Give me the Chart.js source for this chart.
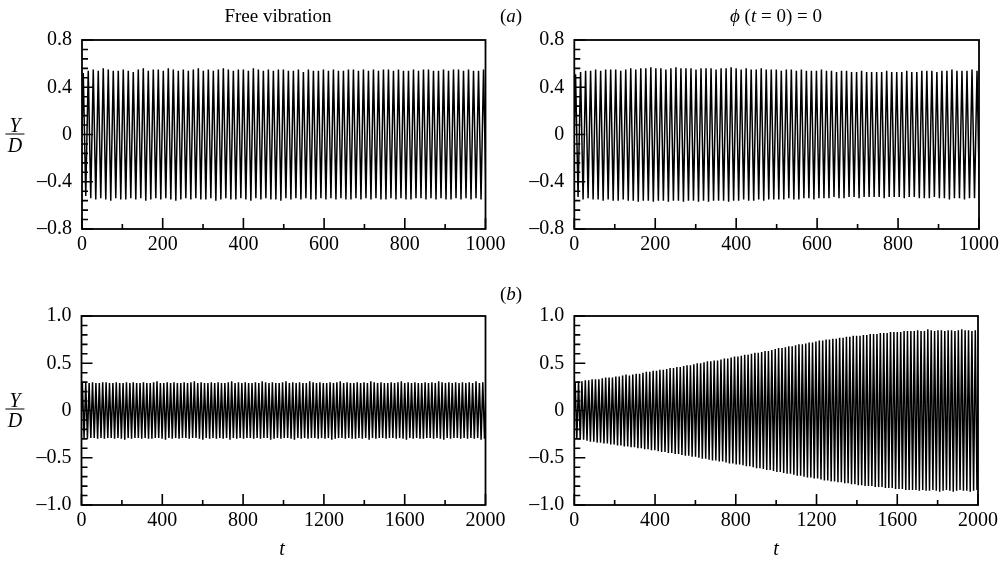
<!DOCTYPE html>
<html><head><meta charset="utf-8">
<script src="https://cdn.jsdelivr.net/npm/chart.js@4.4.1/dist/chart.umd.min.js"></script>
<style>
html,body{margin:0;padding:0;background:#fff;}
#wrap{position:relative;width:1008px;height:561px;overflow:hidden;font-family:"Liberation Serif","DejaVu Serif",serif;color:#000;background:#fff;}
canvas{position:absolute;}
.t{position:absolute;white-space:nowrap;font-size:19px;line-height:1;transform:translate(-50%,-50%);}
.frac{position:absolute;transform:translate(-50%,-50%);font-style:italic;font-size:20px;text-align:center;}
.frac .n{display:block;line-height:16px;padding:0 4px 1px;border-bottom:1.3px solid #000;}
.frac .d{display:block;line-height:18px;padding-top:1px;}
</style></head>
<body>
<div id="wrap">
<canvas id="cTL" width="525" height="256" style="left:0px;top:18px;width:525px;height:256px"></canvas>
<canvas id="cTR" width="516" height="256" style="left:492px;top:18px;width:516px;height:256px"></canvas>
<canvas id="cBL" width="525" height="256" style="left:0px;top:294px;width:525px;height:256px"></canvas>
<canvas id="cBR" width="516" height="256" style="left:492px;top:294px;width:516px;height:256px"></canvas>
<div class="t" style="left:278px;top:15px">Free vibration</div>
<div class="t" style="left:511px;top:15px">(<i>a</i>)</div>
<div class="t" style="left:776px;top:15px"><i>ϕ</i> (<i>t</i> = 0) = 0</div>
<div class="t" style="left:511px;top:293px">(<i>b</i>)</div>
<div class="frac" style="left:15px;top:135px"><span class="n">Y</span><span class="d">D</span></div>
<div class="frac" style="left:15px;top:410px"><span class="n">Y</span><span class="d">D</span></div>
<div class="t" style="left:282px;top:548px;font-style:italic;font-size:20px">t</div>
<div class="t" style="left:776px;top:548px;font-style:italic;font-size:20px">t</div>
</div>
<script>
// ---------- tick values and labels ----------
const topXTicks = [0, 200, 400, 600, 800, 1000];
const topXLabels = ['0', '200', '400', '600', '800', '1000'];
const topYTicks = [-0.8, -0.4, 0, 0.4, 0.8];
const topYLabels = ['\u20130.8', '\u20130.4', '0', '0.4', '0.8'];
const botXTicks = [0, 400, 800, 1200, 1600, 2000];
const botXLabels = ['0', '400', '800', '1200', '1600', '2000'];
const botYTicks = [-1, -0.5, 0, 0.5, 1];
const botYLabels = ['\u20131.0', '\u20130.5', '0', '0.5', '1.0'];

// ---------- oscillation periods ----------
const periodTop = 12.4;     // (a) panels
const periodBottom = 16.8;  // (b) panels
const startValue = 0;       // Y/D at t = 0

// ---------- (a) Free vibration: successive maxima / minima ----------
const freeA_peaks = [
  0.52,0.54,0.55,0.54,0.56,0.55,0.54,0.54,0.55,0.54,
  0.53,0.55,0.56,0.54,0.55,0.55,0.54,0.56,0.55,0.54,
  0.55,0.54,0.55,0.56,0.54,0.55,0.54,0.55,0.56,0.55,
  0.54,0.55,0.55,0.54,0.56,0.55,0.54,0.55,0.54,0.55,
  0.55,0.54,0.54,0.55,0.53,0.55,0.54,0.54,0.55,0.54,
  0.55,0.54,0.54,0.55,0.55,0.54,0.55,0.54,0.55,0.54,
  0.55,0.55,0.54,0.55,0.54,0.54,0.55,0.54,0.55,0.55,
  0.54,0.54,0.55,0.54,0.55,0.55,0.54,0.55,0.54,0.54,
  0.55,0.54];
const freeA_troughs = [
  -0.52,-0.54,-0.55,-0.54,-0.55,-0.56,-0.54,-0.55,-0.55,-0.54,
  -0.55,-0.54,-0.56,-0.55,-0.54,-0.55,-0.54,-0.55,-0.56,-0.55,
  -0.54,-0.55,-0.54,-0.55,-0.55,-0.54,-0.56,-0.55,-0.54,-0.55,
  -0.55,-0.54,-0.55,-0.56,-0.54,-0.55,-0.54,-0.55,-0.55,-0.56,
  -0.54,-0.55,-0.54,-0.55,-0.54,-0.55,-0.55,-0.54,-0.55,-0.54,
  -0.55,-0.54,-0.55,-0.55,-0.54,-0.55,-0.54,-0.55,-0.54,-0.55,
  -0.55,-0.54,-0.55,-0.54,-0.55,-0.55,-0.54,-0.54,-0.55,-0.54,
  -0.55,-0.54,-0.55,-0.55,-0.54,-0.55,-0.54,-0.55,-0.54,-0.55,
  -0.54,-0.53];

// ---------- (a) phi(t=0)=0 ----------
const phiA_peaks = [
  0.51,0.53,0.54,0.54,0.55,0.54,0.55,0.55,0.55,0.54,
  0.55,0.56,0.55,0.56,0.56,0.57,0.56,0.56,0.55,0.56,
  0.57,0.56,0.56,0.56,0.55,0.56,0.56,0.56,0.55,0.56,
  0.56,0.57,0.56,0.55,0.56,0.55,0.55,0.56,0.55,0.55,
  0.55,0.54,0.55,0.55,0.54,0.55,0.54,0.54,0.54,0.55,
  0.54,0.54,0.53,0.54,0.54,0.53,0.53,0.54,0.53,0.53,
  0.53,0.53,0.54,0.53,0.53,0.53,0.54,0.53,0.53,0.54,
  0.54,0.54,0.53,0.54,0.54,0.55,0.54,0.54,0.54,0.55,
  0.54,0.54];
const phiA_troughs = [
  -0.53,-0.55,-0.54,-0.55,-0.55,-0.56,-0.55,-0.56,-0.56,-0.55,
  -0.56,-0.56,-0.57,-0.56,-0.56,-0.57,-0.56,-0.56,-0.57,-0.56,
  -0.56,-0.57,-0.56,-0.56,-0.57,-0.56,-0.57,-0.56,-0.56,-0.56,
  -0.57,-0.56,-0.56,-0.55,-0.56,-0.56,-0.55,-0.56,-0.55,-0.55,
  -0.55,-0.55,-0.54,-0.55,-0.55,-0.54,-0.54,-0.55,-0.54,-0.54,
  -0.54,-0.53,-0.54,-0.54,-0.53,-0.53,-0.54,-0.53,-0.53,-0.53,
  -0.53,-0.54,-0.53,-0.53,-0.53,-0.54,-0.53,-0.53,-0.54,-0.54,
  -0.54,-0.53,-0.54,-0.54,-0.55,-0.54,-0.54,-0.55,-0.54,-0.54,
  -0.55,-0.54];

// ---------- (b) Free vibration ----------
const freeB_peaks = [
  0.30,0.29,0.29,0.30,0.29,0.29,0.30,0.30,0.29,0.29,
  0.30,0.29,0.29,0.30,0.29,0.30,0.29,0.29,0.30,0.29,
  0.29,0.30,0.31,0.29,0.29,0.30,0.29,0.30,0.29,0.29,
  0.30,0.29,0.30,0.31,0.29,0.30,0.29,0.29,0.30,0.29,
  0.30,0.29,0.29,0.30,0.31,0.29,0.30,0.29,0.30,0.29,
  0.29,0.30,0.29,0.31,0.30,0.29,0.30,0.29,0.29,0.30,
  0.31,0.29,0.30,0.29,0.30,0.29,0.29,0.31,0.30,0.29,
  0.30,0.29,0.29,0.30,0.29,0.30,0.31,0.29,0.30,0.29,
  0.29,0.30,0.29,0.30,0.29,0.31,0.30,0.29,0.30,0.29,
  0.29,0.30,0.29,0.30,0.31,0.29,0.30,0.29,0.30,0.29,
  0.29,0.30,0.29,0.30,0.29,0.31,0.30,0.29,0.30,0.29,
  0.30,0.29,0.30,0.29,0.30,0.29,0.31,0.29,0.30,0.30];
const freeB_troughs = [
  -0.29,-0.30,-0.29,-0.29,-0.30,-0.29,-0.30,-0.29,-0.29,-0.30,
  -0.29,-0.30,-0.31,-0.29,-0.30,-0.29,-0.29,-0.30,-0.29,-0.30,
  -0.30,-0.29,-0.29,-0.30,-0.31,-0.29,-0.30,-0.29,-0.30,-0.29,
  -0.29,-0.30,-0.29,-0.29,-0.30,-0.31,-0.29,-0.30,-0.29,-0.30,
  -0.29,-0.30,-0.29,-0.31,-0.29,-0.30,-0.29,-0.30,-0.29,-0.29,
  -0.30,-0.29,-0.30,-0.29,-0.29,-0.31,-0.30,-0.29,-0.30,-0.29,
  -0.29,-0.30,-0.31,-0.29,-0.30,-0.29,-0.30,-0.29,-0.29,-0.30,
  -0.29,-0.30,-0.29,-0.31,-0.30,-0.29,-0.29,-0.30,-0.29,-0.30,
  -0.30,-0.29,-0.30,-0.29,-0.31,-0.29,-0.30,-0.29,-0.29,-0.30,
  -0.29,-0.29,-0.30,-0.29,-0.30,-0.31,-0.29,-0.30,-0.29,-0.30,
  -0.30,-0.29,-0.29,-0.30,-0.29,-0.30,-0.31,-0.29,-0.30,-0.29,
  -0.29,-0.30,-0.29,-0.30,-0.29,-0.30,-0.29,-0.31,-0.30,-0.29];

// ---------- (b) phi(t=0)=0 : growing response ----------
const phiB_peaks = [
  0.30,0.31,0.31,0.32,0.32,0.33,0.33,0.33,0.34,0.35,
  0.35,0.35,0.36,0.36,0.37,0.38,0.37,0.38,0.39,0.39,
  0.40,0.41,0.41,0.42,0.42,0.43,0.43,0.44,0.45,0.45,
  0.46,0.46,0.47,0.48,0.48,0.49,0.50,0.50,0.51,0.52,
  0.52,0.53,0.53,0.54,0.55,0.55,0.56,0.57,0.57,0.58,
  0.59,0.59,0.60,0.61,0.61,0.62,0.63,0.63,0.64,0.65,
  0.66,0.66,0.67,0.68,0.68,0.69,0.70,0.70,0.71,0.72,
  0.72,0.73,0.74,0.74,0.75,0.75,0.76,0.76,0.77,0.77,
  0.78,0.78,0.79,0.79,0.79,0.80,0.80,0.81,0.81,0.81,
  0.82,0.82,0.82,0.83,0.83,0.83,0.83,0.84,0.84,0.84,
  0.84,0.85,0.84,0.84,0.86,0.85,0.84,0.85,0.85,0.84,
  0.85,0.85,0.84,0.85,0.86,0.85,0.85,0.84,0.85,0.86];
const phiB_troughs = [
  -0.30,-0.31,-0.31,-0.32,-0.33,-0.33,-0.34,-0.34,-0.35,-0.35,
  -0.36,-0.36,-0.37,-0.37,-0.38,-0.38,-0.39,-0.39,-0.40,-0.40,
  -0.41,-0.41,-0.42,-0.42,-0.43,-0.44,-0.44,-0.45,-0.45,-0.46,
  -0.46,-0.47,-0.48,-0.48,-0.49,-0.49,-0.50,-0.51,-0.51,-0.52,
  -0.53,-0.53,-0.54,-0.54,-0.55,-0.56,-0.56,-0.57,-0.57,-0.58,
  -0.59,-0.59,-0.60,-0.61,-0.61,-0.62,-0.63,-0.63,-0.64,-0.65,
  -0.65,-0.66,-0.67,-0.67,-0.68,-0.69,-0.69,-0.70,-0.71,-0.71,
  -0.72,-0.72,-0.73,-0.74,-0.74,-0.75,-0.75,-0.76,-0.76,-0.77,
  -0.77,-0.78,-0.78,-0.79,-0.79,-0.80,-0.80,-0.80,-0.81,-0.81,
  -0.81,-0.82,-0.82,-0.82,-0.83,-0.83,-0.83,-0.84,-0.84,-0.84,
  -0.84,-0.85,-0.84,-0.85,-0.85,-0.84,-0.85,-0.86,-0.85,-0.84,
  -0.85,-0.86,-0.85,-0.84,-0.85,-0.85,-0.86,-0.85,-0.84,-0.85];

// ---------- build series: start value, then alternating max / min per cycle ----------
function buildSeries(period, peaks, troughs) {
  const pts = [{x: 0, y: startValue}];
  const n = Math.min(peaks.length, troughs.length);
  for (let k = 0; k < n; k++) {
    pts.push({x: period * (k + 0.25), y: peaks[k]});
    pts.push({x: period * (k + 0.75), y: troughs[k]});
  }
  return pts;
}

// ---------- frame + inward ticks drawn on the library's scales ----------
const framePlugin = {
  id: 'frame',
  afterDraw(chart, args, o) {
    const {ctx, chartArea: a} = chart;
    const x = chart.scales.x, y = chart.scales.y;
    ctx.save();
    ctx.strokeStyle = '#000';
    ctx.lineWidth = 1.8;
    ctx.strokeRect(a.left, a.top, a.right - a.left, a.bottom - a.top);
    ctx.lineWidth = 1.6;
    ctx.beginPath();
    const near = (v, arr) => arr.some(m => Math.abs(m - v) < 1e-6);
    const nx = Math.round((o.xMax - o.xMin) / o.xMinorStep);
    for (let i = 0; i <= nx; i++) {
      const v = o.xMin + i * o.xMinorStep;
      const len = near(v, o.xMajor) ? 11 : 5;
      const px = x.getPixelForValue(v);
      ctx.moveTo(px, a.bottom); ctx.lineTo(px, a.bottom - len);
    }
    const ny = Math.round((o.yMax - o.yMin) / o.yMinorStep);
    for (let i = 0; i <= ny; i++) {
      const v = o.yMin + i * o.yMinorStep;
      const len = near(v, o.yMajor) ? 11 : 6;
      const py = y.getPixelForValue(v);
      ctx.moveTo(a.left, py); ctx.lineTo(a.left + len, py);
    }
    ctx.stroke();
    ctx.restore();
  }
};

const tickFont = {family: "'Liberation Serif', 'DejaVu Serif', serif", size: 20};

function makePanel(id, p) {
  new Chart(document.getElementById(id), {
    type: 'line',
    data: {datasets: [{
      data: buildSeries(p.period, p.peaks, p.troughs),
      borderColor: '#000', borderWidth: p.lineWidth, pointRadius: 0, tension: 0, fill: false
    }]},
    options: {
      responsive: false, animation: false, parsing: false, normalized: true,
      events: [],
      layout: {padding: {top: 16, left: 0, right: p.padRight, bottom: 0}},
      plugins: {legend: {display: false}, tooltip: {enabled: false},
        frame: {xMin: p.xMin, xMax: p.xMax, yMin: p.yMin, yMax: p.yMax,
                xMajor: p.xTicks, yMajor: p.yTicks, xMinorStep: p.xMinorStep, yMinorStep: p.yMinorStep}},
      scales: {
        x: {type: 'linear', min: p.xMin, max: p.xMax,
            grid: {display: false, drawTicks: false}, border: {display: false},
            afterBuildTicks: s => { s.ticks = p.xTicks.map(v => ({value: v})); },
            afterFit: s => { s.height = 45; },
            ticks: {autoSkip: false, maxRotation: 0, color: '#000', font: tickFont, padding: 4,
                    callback: v => p.xLabels[p.xTicks.indexOf(v)]}},
        y: {type: 'linear', min: p.yMin, max: p.yMax,
            grid: {display: false, drawTicks: false}, border: {display: false},
            afterBuildTicks: s => { s.ticks = p.yTicks.map(v => ({value: v})); },
            afterFit: s => { s.width = p.yWidth; },
            ticks: {autoSkip: false, color: '#000', font: tickFont, padding: 10,
                    callback: v => p.yLabels[p.yTicks.indexOf(v)]}}
      }
    },
    plugins: [framePlugin]
  });
}

makePanel('cTL', {period: periodTop, peaks: freeA_peaks, troughs: freeA_troughs, lineWidth: 1.5,
  xMin: 0, xMax: 1000, yMin: -0.8, yMax: 0.8, xTicks: topXTicks, xLabels: topXLabels,
  yTicks: topYTicks, yLabels: topYLabels, xMinorStep: 100, yMinorStep: 0.08, yWidth: 82, padRight: 39.5});
makePanel('cTR', {period: periodTop, peaks: phiA_peaks, troughs: phiA_troughs, lineWidth: 1.5,
  xMin: 0, xMax: 1000, yMin: -0.8, yMax: 0.8, xTicks: topXTicks, xLabels: topXLabels,
  yTicks: topYTicks, yLabels: topYLabels, xMinorStep: 100, yMinorStep: 0.08, yWidth: 82.3, padRight: 29});
makePanel('cBL', {period: periodBottom, peaks: freeB_peaks, troughs: freeB_troughs, lineWidth: 1.5,
  xMin: 0, xMax: 2000, yMin: -1, yMax: 1, xTicks: botXTicks, xLabels: botXLabels,
  yTicks: botYTicks, yLabels: botYLabels, xMinorStep: 200, yMinorStep: 0.1, yWidth: 81.5, padRight: 39.5});
makePanel('cBR', {period: periodBottom, peaks: phiB_peaks, troughs: phiB_troughs, lineWidth: 1.5,
  xMin: 0, xMax: 2000, yMin: -1, yMax: 1, xTicks: botXTicks, xLabels: botXLabels,
  yTicks: botYTicks, yLabels: botYLabels, xMinorStep: 200, yMinorStep: 0.1, yWidth: 82.3, padRight: 30});
</script>
</body></html>
